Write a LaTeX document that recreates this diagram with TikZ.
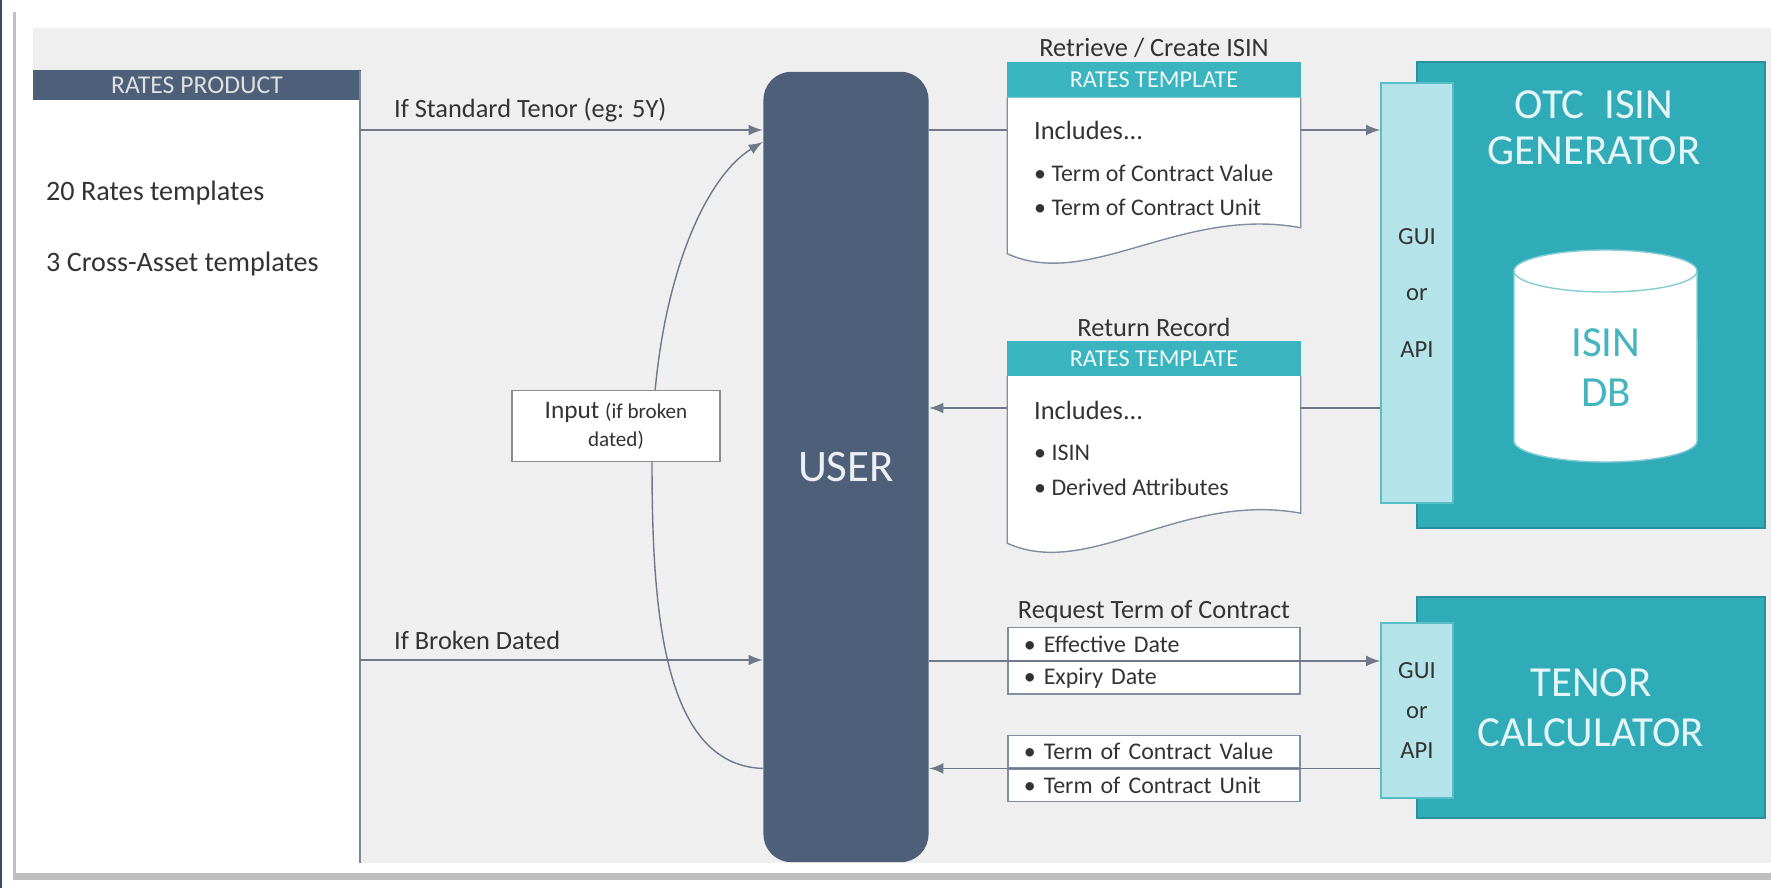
\documentclass[tikz,border=0pt]{standalone}
\usepackage{fontspec}
\setmainfont{Carlito}
\usepackage{tikz}
\usetikzlibrary{positioning,calc}
\definecolor{slate}{RGB}{78,95,122}
\definecolor{otcteal}{RGB}{47,172,184}
\definecolor{hdteal}{RGB}{58,180,191}
\definecolor{guiteal}{RGB}{180,228,233}
\definecolor{panel}{RGB}{239,239,239}
\definecolor{lines}{RGB}{110,120,136}
\definecolor{doc}{RGB}{128,142,162}
\definecolor{ink}{RGB}{51,51,51}

\begin{document}
\begin{tikzpicture}[x=0.01cm, y=-0.01cm, >=latex, text=ink,
      lbl/.style={inner sep=1pt, font=\fontsize{7.5}{9}\selectfont},
      item/.style={inner sep=1pt, font=\fontsize{6.8}{8}\selectfont},
      flow/.style={draw=lines},
      tplhead/.style={fill=hdteal, draw=hdteal, minimum width=2.92cm, minimum height=0.34cm,
                      inner sep=0pt, text=white!92!hdteal, font=\fontsize{6.9}{8}\selectfont},
      docline/.style={draw=doc, fill=white},
      cell/.style={draw=doc, fill=white, text width=2.6cm, inner xsep=0.16cm, inner ysep=0pt,
                   minimum height=0.325cm, align=left, font=\fontsize{6.8}{8}\selectfont},
      guibox/.style={fill=guiteal, draw=otcteal!80, minimum width=0.72cm, align=center},
      sysbox/.style={fill=otcteal, draw=otcteal!85!black, align=center,
                     text=white!88!otcteal, font=\fontsize{12.2}{14.2}\selectfont},
      dbline/.style={draw=otcteal!60, fill=white}]
      \useasboundingbox (0, 0) rectangle (1771, 888);
      \fill [white] (0, 0) rectangle (1771, 888);
      \fill [black!25] (13, 12) rectangle (1771, 880);
      \fill [white] (16, 10) rectangle (1771, 873);
      \fill [slate!80!black] (0, 0) rectangle (2, 888);
      \fill [panel] (33, 28) rectangle (1771, 863);
      \fill [white] (33, 99) rectangle (360, 863);
      \node (rp) [fill=slate, minimum width=3.28cm, minimum height=0.29cm, inner sep=0pt,
                  text=black!12, font=\fontsize{7.3}{8}\selectfont] at (197, 85) {RATES PRODUCT};
      \draw [slate!75] (360, 71) -- (360, 863);
      \node (rt) [lbl, anchor=west, font=\fontsize{8}{9}\selectfont] at (42, 193) {20 Rates templates};
      \node (xa) [lbl, anchor=west, font=\fontsize{8}{9}\selectfont] at (42, 264) {3 Cross-Asset templates};

      \node (user) [fill=slate, rounded corners=0.28cm, minimum width=1.65cm, minimum height=7.9cm,
                    text=white!90!slate, font=\fontsize{12.8}{14}\selectfont] at (846, 467) {USER};
      \node (otc) [sysbox, minimum width=3.48cm, minimum height=4.66cm] at (1591, 295) {};
      \node (otctitle) [sysbox, draw=none, fill=none, font=\fontsize{12.2}{13}\selectfont] at (1594, 128) {OTC\ \ ISIN\\GENERATOR};
      \node (gui1) [guibox, minimum height=4.2cm, font=\fontsize{7}{16.2}\selectfont] at (1417, 293) {GUI\\or\\API};
      \node (tenor) [sysbox, minimum width=3.48cm, minimum height=2.21cm] at (1591, 707.5) {TENOR\\CALCULATOR};
      \node (gui2) [guibox, minimum height=1.75cm, font=\fontsize{7}{11.5}\selectfont] at (1417, 710.5) {GUI\\or\\API};

      \node (req1) [cell] at (1154, 644) {\textbullet\ Effective Date};
      \node (req2) [cell, below=0pt of req1] {\textbullet\ Expiry Date};
      \node (reqlbl) [lbl, above=0pt of req1] {Request Term of Contract};
      \node (resp1) [cell] at (1154, 751.5) {\textbullet\ Term of Contract Value};
      \node (resp2) [cell, below=0pt of resp1] {\textbullet\ Term of Contract Unit};

      \coordinate (std) at (360, 130);
      \coordinate (brk) at (360, 660);
      \coordinate (loopend) at (763, 142);
      \coordinate (row1) at (1000, 130);
      \coordinate (row2) at (1000, 408);
      \draw [flow, ->] (std) -- (std -| user.west);
      \draw [flow, ->] (brk) -- (brk -| user.west);
      \draw [flow, ->] (user.west |- resp2.north) .. controls (660, 765) and (652, 600) .. (652, 460)
                       .. controls (652, 300) and (700, 180) .. (user.west |- loopend);
      \draw [flow, ->] (user.east |- row1) -- (gui1.west |- row1);
      \draw [flow, ->] (gui1.west |- row2) -- (user.east |- row2);
      \draw [flow, ->] (user.east |- req2.north) -- (gui2.west |- req2.north);
      \draw [flow, ->] (gui2.west |- resp2.north) -- (user.east |- resp2.north);
      \node (stdlbl) [lbl, anchor=west] at (390, 110) {If Standard Tenor (eg: 5Y)};
      \node (brklbl) [lbl, anchor=west] at (390, 640) {If Broken Dated};

      \node (inp) [draw=black!45, fill=white, minimum width=2.08cm, minimum height=0.61cm, align=center,
                   font=\fontsize{7.2}{8}\selectfont] at (616, 426)
            {Input {\fontsize{6}{7}\selectfont (if broken}\\{\fontsize{6}{7}\selectfont dated)}};

      \node (tpl1) [tplhead] at (1154, 80) {RATES TEMPLATE};
      \draw [docline] (tpl1.south west) -- ++(0, 156) .. controls +(82, 37) and +(-120, -22)
                      .. ($(tpl1.south east) + (0, 130)$) -- (tpl1.south east);
      \node (ret) [lbl, above=0pt of tpl1] {Retrieve / Create ISIN};
      \node (inc1) [lbl, anchor=west] at (1030, 130) {Includes...};
      \node (t1a) [item, anchor=west] at (1030, 173) {\textbullet\ Term of Contract Value};
      \node (t1b) [item, anchor=west] at (1030, 207) {\textbullet\ Term of Contract Unit};

      \node (tpl2) [tplhead] at (1154, 358.5) {RATES TEMPLATE};
      \draw [docline] (tpl2.south west) -- ++(0, 167) .. controls +(82, 37) and +(-120, -22)
                      .. ($(tpl2.south east) + (0, 137)$) -- (tpl2.south east);
      \node (rr) [lbl, above=0pt of tpl2] {Return Record};
      \node (inc2) [lbl, anchor=west] at (1030, 410) {Includes...};
      \node (t2a) [item, anchor=west] at (1030, 453) {\textbullet\ ISIN};
      \node (t2b) [item, anchor=west] at (1030, 487) {\textbullet\ Derived Attributes};

      \draw [dbline] (1514, 271) -- (1514, 441) arc [start angle=180, end angle=360, x radius=0.915cm, y radius=0.21cm]
                     -- (1697, 271) arc [start angle=0, end angle=180, x radius=0.915cm, y radius=0.21cm] -- cycle;
      \draw [dbline, fill=none] (1514, 271) arc [start angle=180, end angle=360, x radius=0.915cm, y radius=0.21cm];
      \node (db) [align=center, text=otcteal!90, font=\fontsize{12.2}{14.2}\selectfont] at (1606, 368) {ISIN\\DB};
\end{tikzpicture}
\end{document}
